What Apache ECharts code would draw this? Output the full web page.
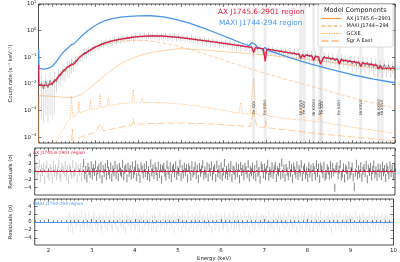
<!DOCTYPE html>
<html>
<head>
<meta charset="utf-8">
<script src="https://cdn.jsdelivr.net/npm/echarts@6/dist/echarts.min.js"></script>
<style>html,body{margin:0;padding:0;background:#fff}#chart{width:400px;height:262px}</style>
</head>
<body>
<div id="chart"></div>
<script>
// spectrum bins (keV)
const binStart = 1.75, binWidth = 0.05;
// residual bins (keV)
const resStart = 1.71, resWidth = 0.025;

// AX J1745.6-2901 region data, count rate per bin
const axRate = [
  0.011,0.0065,0.0125,0.0072,0.0135,0.0088,0.0148,0.0118,0.0225,0.0195,
  0.034,0.030,0.046,0.042,0.060,0.052,0.078,0.081,0.11,0.112,
  0.15,0.142,0.185,0.178,0.235,0.222,0.27,0.262,0.33,0.31,
  0.37,0.345,0.42,0.385,0.45,0.42,0.49,0.455,0.53,0.48,
  0.56,0.51,0.59,0.53,0.62,0.56,0.64,0.57,0.66,0.59,
  0.67,0.60,0.68,0.59,0.67,0.60,0.66,0.58,0.65,0.57,
  0.63,0.55,0.62,0.54,0.60,0.52,0.58,0.50,0.55,0.47,
  0.52,0.45,0.50,0.42,0.47,0.40,0.45,0.38,0.43,0.36,
  0.41,0.345,0.39,0.33,0.37,0.315,0.355,0.30,0.335,0.28,
  0.32,0.265,0.305,0.25,0.285,0.235,0.27,0.225,0.25,0.155,
  0.235,0.20,0.232,0.19,0.12,0.175,0.215,0.175,0.205,0.165,
  0.19,0.155,0.18,0.145,0.172,0.138,0.163,0.128,0.155,0.12,
  0.145,0.095,0.13,0.105,0.132,0.102,0.125,0.082,0.118,0.092,
  0.062,0.075,0.11,0.085,0.106,0.078,0.10,0.072,0.094,0.06,
  0.09,0.066,0.085,0.06,0.08,0.055,0.074,0.052,0.07,0.046,
  0.068,0.048,0.066,0.044,0.062,0.042,0.058,0.036,0.052,0.034,
  0.053,0.035,0.05,0.033,0.047,0.032
];
// fractional error of the data, by energy band
const errE = [1.75, 2.1, 2.5, 3.0, 6.2, 8.0, 9.0];
const errFrac = [0.95, 0.6, 0.4, 0.3, 0.35, 0.42, 0.5];

// residuals (sigma)
const resAX = [
  1.4,-0.9,0.3,2.0,-1.6,0.7,-0.2,1.2,-2.1,0.5,1.7,-0.6,-1.3,0.9,0.1,-1.8,1.5,-0.4,0.8,-1.1,
  0.2,1.9,-0.7,-1.5,1.1,0.4,-0.3,1.6,-1.2,0.6,-2.0,1.0,0.3,-0.8,1.8,-0.5,0.0,1.3,-1.6,0.7,
  -0.2,1.1,-1.4,0.5,2.1,-0.9,0.4,-1.7,1.2,0.1,-0.6,1.5,-1.0,0.8,-0.1,1.7,-1.3,0.3,0.9,-0.7,
  1.4,-1.9,0.6,-0.4,1.0,-1.1,1.8,0.2,-0.8,1.3,-1.5,0.5,-0.2,1.6,-0.9,0.7,-1.4,1.1,0.0,-0.5,
  1.9,-1.2,0.4,0.8,-1.7,1.2,-0.3,0.6,-1.0,1.5,-0.6,0.2,1.7,-1.4,0.9,-0.1,-1.8,1.3,0.5,-0.7,
  1.0,-0.4,1.6,-1.1,0.3,-1.5,2.0,-0.2,0.7,-0.9,1.2,0.1,-1.3,1.4,-0.6,0.8,-2.0,0.6,1.1,-0.3,
  -1.2,1.7,0.2,-0.8,1.3,-1.6,0.5,0.9,-0.4,1.5,-1.1,0.3,-0.1,1.9,-1.4,0.6,-0.7,1.2,-0.2,0.8,
  -1.7,1.0,0.4,-1.3,1.6,-0.5,0.1,1.4,-0.9,0.7,-1.8,1.1,-0.3,0.5,1.8,-1.0,0.2,-0.6,1.3,-1.5,
  0.9,-0.2,1.5,-1.2,0.3,0.8,-1.6,1.7,-0.4,0.6,-0.9,1.2,-1.4,0.0,2.1,-0.8,0.4,-1.1,1.0,-0.3,
  1.6,-1.7,0.5,0.2,-1.0,1.3,-0.5,0.9,-1.9,1.4,-0.1,0.7,-1.2,1.1,0.3,-0.6,1.8,-1.5,0.4,-0.2,
  1.2,-0.9,0.6,-1.4,1.7,-0.3,0.1,-2.0,1.5,0.8,-0.7,1.0,-1.1,0.4,1.9,-1.3,0.2,-0.5,1.3,-0.8,
  0.5,1.4,-1.6,0.3,-0.2,1.1,-1.0,2.2,-0.6,0.7,-1.5,0.9,0.0,-1.2,1.6,-0.4,0.8,-1.8,1.2,0.2,
  -0.7,1.5,-1.1,0.6,-0.3,1.8,-1.4,0.4,1.0,-0.9,0.1,-1.6,1.3,-0.5,0.7,-1.4,1.1,0.3,-1.2,1.7,
  -0.4,0.9,-1.8,1.2,0.5,-0.6,1.4,-1.3,-0.8,0.8,0.2,-1.0,1.6,-0.7,1.1,-0.2,-4.0,0.6,1.3,-0.9,
  0.4,1.8,-1.2,-0.5,1.0,-1.7,0.7,0.3,-1.1,1.5,-0.8,0.1,1.2,-1.4,-3.8,-0.3,1.9,-1.0,0.5,-0.6,
  1.3,-1.5,0.2,0.9,-0.4,1.6,-1.9,0.7,-0.1,1.1,-1.2,0.4,1.7,-0.7,0.3,-1.3,1.0,-0.5,0.8,-1.1,
  1.4,-0.2,0.6,-1.6,1.1,0.3,-0.9,1.5,-0.4,0.7,-1.2,0.9
];
const resMAXI = [
  null,null,null,null,null,null,null,null,null,null,null,null,null,null,null,
  null,null,null,null,null,null,null,null,null,null,null,null,null,null,
  0.7,-1.3,1.6,-0.4,0.2,-1.8,1.1,0.5,-0.9,1.4,-0.2,0.8,-1.5,1.9,-0.6,0.3,-1.1,1.2,0.0,-0.7,
  1.5,-1.0,0.4,-1.6,0.9,1.7,-0.3,0.6,-1.2,0.2,1.3,-0.8,-1.9,1.0,0.5,-0.4,1.6,-1.3,0.7,-0.1,
  1.1,-0.6,-1.4,1.8,0.3,-0.9,0.8,-1.7,1.2,0.1,-0.5,1.5,-1.0,0.4,-2.0,1.3,0.6,-0.3,0.9,-1.2,
  0.2,1.6,-0.7,-1.1,1.4,-0.2,0.7,-1.5,1.0,0.5,-1.8,1.2,-0.4,0.3,1.7,-0.9,-0.1,1.1,-1.3,0.8,
  -0.6,1.3,0.4,-1.6,0.9,-0.3,1.8,-1.0,0.1,0.6,-1.4,1.5,-0.8,0.2,1.0,-1.2,0.7,-0.5,1.6,-1.9,
  0.5,-0.2,1.2,-1.1,0.8,0.3,-1.7,1.4,-0.4,0.9,-0.9,0.1,1.7,-1.3,0.6,-0.7,1.1,-1.5,0.4,1.3,
  -1.0,0.7,-0.3,1.9,-1.6,0.2,1.0,-0.8,0.5,-1.2,1.4,0.0,-0.6,1.2,-1.8,0.8,0.3,-1.1,1.5,-0.4,
  0.9,-1.4,0.6,1.1,-0.5,-1.0,1.6,-0.2,0.4,-1.7,1.3,0.7,-0.9,0.2,1.8,-1.3,0.5,-0.6,1.0,-0.1,
  -1.5,1.2,0.3,-0.8,1.7,-1.1,0.6,-0.4,1.4,-1.9,0.8,0.1,-0.7,1.1,-1.2,0.4,1.6,-0.5,0.2,-1.0,
  1.3,-0.3,0.7,-1.6,1.0,0.5,-1.2,1.8,-0.6,0.2,-0.9,1.5,-1.4,0.6,0.0,-0.8,1.2,-1.7,0.9,0.3,
  -0.4,1.4,-1.1,0.5,-0.2,1.7,-1.5,0.8,0.1,-1.0,1.1,-0.6,0.4,-1.8,1.3,0.2,-0.7,1.0,-1.3,0.6,
  1.6,-0.9,0.3,-0.5,1.2,-1.4,0.7,0.9,-1.6,0.4,-0.1,1.5,-1.2,0.6,-0.3,1.9,-1.0,0.2,-0.8,1.1,
  -1.3,0.5,1.0,-0.7,0.3,-1.9,1.4,-0.2,0.8,-1.1,1.2,0.4,-0.6,1.6,-1.5,0.1,0.9,-0.4,1.3,-1.2,
  0.6,-0.1,1.1,-1.4,0.7,0.2,-1.0,1.7,-0.8,0.5,-1.6,1.0,0.3,-0.5,1.4,-1.3,0.8,-0.2,0.4,-0.9,
  1.2,-1.7,0.6,0.1,-0.6,1.5,-1.1,0.3,0.9,-1.4,0.7,-0.3,1.3,-1.0,0.2,1.0,-1.5,0.5,-0.7,1.1,
  -0.4,0.8,-1.2
];

// total models
const axModelE = [1.685,1.69,1.80,1.90,2.00,2.10,2.20,2.30,2.40,2.47,2.52,2.60,2.70,2.85,3.00,3.20,3.40,3.60,3.80,4.00,
  4.30,4.60,5.00,5.40,5.80,6.20,6.50,6.66,6.70,6.74,6.93,6.97,7.01,7.40,7.76,7.80,7.84,7.88,7.92,8.06,
  8.10,8.14,8.22,8.26,8.29,8.33,8.66,8.70,8.74,9.16,9.20,9.24,9.58,9.62,9.66,9.70,9.74,10.0];
const axModelRate = [0.05,0.0088,0.0088,0.0090,0.0105,0.015,0.024,0.035,0.048,0.053,0.058,0.085,0.12,0.17,0.24,0.33,0.41,0.48,0.54,0.59,
  0.63,0.62,0.55,0.45,0.37,0.30,0.255,0.235,0.15,0.228,0.205,0.07,0.20,0.16,0.128,0.09,0.124,0.10,0.12,0.11,
  0.075,0.107,0.103,0.055,0.068,0.098,0.081,0.055,0.079,0.062,0.045,0.06,0.049,0.036,0.047,0.039,0.046,0.038];
const maxiModelE = [1.685,1.69,1.80,1.90,2.00,2.10,2.20,2.30,2.40,2.45,2.50,2.60,2.70,2.80,2.90,3.00,3.10,3.20,3.40,3.60,
  3.80,4.00,4.30,4.60,4.90,5.20,5.50,5.80,6.10,6.40,6.60,6.66,6.70,6.74,6.80,6.92,6.97,7.02,7.30,7.60,
  8.00,8.50,9.00,9.50,10.0];
const maxiModelRate = [0.2,0.038,0.036,0.038,0.045,0.07,0.12,0.18,0.25,0.3,0.31,0.45,0.65,0.9,1.2,1.55,1.9,2.25,2.8,3.2,
  3.45,3.6,3.62,3.3,2.6,1.9,1.3,0.85,0.55,0.35,0.27,0.36,0.42,0.3,0.23,0.2,0.235,0.185,0.13,0.09,
  0.058,0.035,0.022,0.015,0.011];

// model components (AX region)
const compAXE = [1.685,1.69,2.0,2.3,2.5,2.7,2.9,3.1,3.3,3.5,3.7,4.0,4.3,4.7,5.0,5.5,6.0,6.5,7.0,7.5,8.0,8.5,9.0,9.5,10.0];
const compAXRate = [1e-5,0.0036,0.0034,0.0031,0.0031,0.0042,0.0075,0.014,0.026,0.045,0.07,0.11,0.15,0.19,0.21,0.19,0.16,0.14,0.12,0.1,0.082,0.065,0.05,0.04,0.031];
const compMAXIE = [1.685,1.69,1.9,2.0,2.2,2.4,2.6,2.8,3.0,3.3,3.6,3.9,4.2,4.5,4.8,5.1,5.4,5.8,6.2,6.6,7.0,7.5,8.0,8.5,9.0,9.5,10.0];
const compMAXIRate = [1e-5,0.0075,0.0078,0.0092,0.021,0.042,0.1,0.16,0.23,0.33,0.4,0.43,0.42,0.36,0.29,0.22,0.16,0.1,0.06,0.038,0.024,0.014,0.0085,0.005,0.0031,0.0019,0.0012];
const gcxeE = [2.05,2.15,2.25,2.35,2.42,2.45,2.48,2.55,2.60,2.62,2.64,2.75,2.87,2.89,2.91,3.00,3.10,3.12,3.14,3.28,
  3.31,3.34,3.60,3.86,3.89,3.92,4.07,4.10,4.13,4.50,5.00,5.60,6.00,6.36,6.40,6.44,6.62,6.66,6.70,6.73,
  6.77,6.93,6.97,7.01,7.40,7.80,7.84,7.88,8.20,8.25,8.30,8.50,9.20,10.0];
const gcxeRate = [4e-5,1e-4,1.9e-4,3.6e-4,5e-4,3.5e-3,5.5e-4,6.5e-4,7.8e-4,2.2e-3,8e-4,9.4e-4,1.05e-3,2.6e-3,1.07e-3,1.15e-3,1.25e-3,4.2e-3,1.28e-3,1.45e-3,
  3.2e-3,1.5e-3,1.8e-3,1.95e-3,6e-3,1.96e-3,2e-3,3e-3,2e-3,2e-3,1.75e-3,1.3e-3,1e-3,7.8e-4,2e-3,7.6e-4,7.2e-4,4.5e-3,1.6e-2,2.5e-3,
  7e-4,6.5e-4,2.6e-3,6.4e-4,5e-4,4.4e-4,1.1e-3,4.3e-4,3.7e-4,7e-4,3.6e-4,3.2e-4,2.1e-4,1.4e-4];
const sgrE = [2.30,2.45,2.47,2.49,2.60,2.80,3.00,3.12,3.20,3.50,3.86,3.89,3.92,4.20,4.80,5.60,6.40,6.62,6.67,6.70,
  6.73,6.78,6.95,6.98,7.01,7.50,7.80,8.30,8.90,9.50,10.0];
const sgrRate = [4e-5,6e-5,2e-4,7e-5,9e-5,1.2e-4,1.5e-4,3e-4,1.7e-4,2.2e-4,2.8e-4,5e-4,2.9e-4,3.2e-4,3.35e-4,3.2e-4,2.6e-4,2.5e-4,6e-4,1.1e-3,
  5e-4,2.45e-4,2.3e-4,4e-4,2.25e-4,1.85e-4,1.6e-4,1.3e-4,1.05e-4,8.5e-5,7e-5];

// absorption line identifications
const lineE = [6.70, 6.97, 7.80, 7.88, 8.10, 8.25, 8.29, 8.70, 9.20, 9.62, 9.70];
const lineName = ['Fe XXV','Fe XXVI','Ni XXVII','Fe XXV','Ni XXVIII','Fe XXVI','Fe XXV','Fe XXVI','Ni XXVII','Ni XXVIII','Ni XXVII'];

const xMajor = [2, 3, 4, 5, 6, 7, 8, 9, 10];
const resTicks = [-4, -2, 0, 2, 4];

// ---- styles ----
const FONT = 'DejaVu Sans';
const RED = '#dc1f44', BLUE = '#4a96ea', ORANGE = '#ff9b3d';
const xMin = 1.68, xMax = 10;
const lineLabelY = 1.3e-3;
const tickLine = { color: '#222', width: 0.6 };

const xMinor = [];
for (let k = 17; k < 100; k++) if (k % 10) xMinor.push(k / 10);

const bins = axRate.map((_, i) => +(binStart + i * binWidth).toFixed(2));
const resBins = resAX.map((_, i) => +(resStart + i * resWidth).toFixed(3));
function fracAt(e) {
  let f = errFrac[0];
  for (let j = 0; j < errE.length; j++) if (e >= errE[j]) f = errFrac[j];
  return f;
}
const zip = (xs, ys) => xs.map((x, i) => [x, ys[i]]);

const axBars = bins.map((e, i) => {
  const f = fracAt(e);
  return [e, axRate[i], Math.max(axRate[i] * (1 - f), 6.2e-5), axRate[i] * (1 + f)];
});
const resAXBars = resBins.map((e, i) => [e, resAX[i], resAX[i] - 1, resAX[i] + 1]);
const resMAXIBars = resBins.map((e, i) => resMAXI[i] === null ? null : [e, resMAXI[i], resMAXI[i] - 1, resMAXI[i] + 1])
  .filter(d => d !== null);

// colour of an error bar, lighter in the faint low-energy part
function barRender(color, width, faintColor, faintBelow) {
  return function (params, api) {
    const x = api.value(0);
    const a = api.coord([x, api.value(2)]);
    const b = api.coord([x, api.value(3)]);
    const c = (faintColor && x < faintBelow) ? faintColor : color;
    return { type: 'line', shape: { x1: a[0], y1: a[1], x2: b[0], y2: b[1] },
      style: { stroke: c, lineWidth: width } };
  };
}

function xAxes(g, withLabels) {
  const base = { type: 'value', gridIndex: g, min: xMin, max: xMax,
    axisLine: { show: false }, splitLine: { show: false } };
  const major = { inside: true, length: 3, customValues: xMajor, lineStyle: tickLine };
  const minor = { inside: true, length: 1.6, customValues: xMinor, lineStyle: tickLine };
  const lab = withLabels
    ? { show: true, customValues: xMajor, fontSize: 5.5, color: '#222', fontFamily: FONT, margin: 3 }
    : { show: false };
  const main = Object.assign({}, base, { position: 'bottom', axisTick: major, axisLabel: lab });
  if (withLabels) {
    Object.assign(main, { name: 'Energy (keV)', nameLocation: 'middle', nameGap: 11,
      nameTextStyle: { fontSize: 5.3, color: '#222', fontFamily: FONT } });
  }
  return [
    main,
    Object.assign({}, base, { position: 'bottom', axisTick: minor, axisLabel: { show: false } }),
    Object.assign({}, base, { position: 'top', axisTick: major, axisLabel: { show: false } }),
    Object.assign({}, base, { position: 'top', axisTick: minor, axisLabel: { show: false } })
  ];
}

function logLabel(v) {
  const p = Math.round(Math.log10(v));
  return '{b|10}{s|' + (p < 0 ? '\u2212' + (-p) : p) + '}';
}
const logRich = {
  b: { fontSize: 5.5, color: '#222', fontFamily: FONT },
  s: { fontSize: 3.8, color: '#222', fontFamily: FONT, padding: [0, 0, 4, 0] }
};

function resY(g, pos) {
  const ax = { type: 'value', gridIndex: g, position: pos, min: -5.8, max: 5.8,
    axisLine: { show: false }, splitLine: { show: false },
    axisTick: { inside: true, length: 3, customValues: resTicks, lineStyle: tickLine } };
  if (pos === 'left') {
    ax.axisLabel = { customValues: resTicks, fontSize: 5.3, color: '#222', fontFamily: FONT, margin: 3,
      formatter: v => (v < 0 ? '\u2212' + (-v) : '' + v) };
    ax.name = 'Residuals (\u03c3)';
    ax.nameLocation = 'middle';
    ax.nameGap = 12;
    ax.nameTextStyle = { fontSize: 5.3, color: '#222', fontFamily: FONT };
  } else {
    ax.axisLabel = { show: false };
  }
  return ax;
}

const gridBox = { show: true, borderColor: '#222', borderWidth: 0.8, left: 26, right: 5 };

const compLine = (name, xs, ys, type, op) => ({
  name: name, type: 'line', xAxisIndex: 0, yAxisIndex: 0, data: zip(xs, ys),
  symbol: 'none', silent: true, z: 2,
  lineStyle: { color: ORANGE, width: 0.9, type: type, opacity: op },
  itemStyle: { color: ORANGE }
});

const chart = echarts.init(document.getElementById('chart'), null, { renderer: 'canvas' });
chart.setOption({
  animation: false,
  backgroundColor: '#fff',
  textStyle: { fontFamily: FONT },
  grid: [
    Object.assign({ top: 3, height: 140 }, gridBox),
    Object.assign({ top: 148, height: 47 }, gridBox),
    Object.assign({ top: 199, height: 47 }, gridBox)
  ],
  xAxis: [].concat(xAxes(0, false), xAxes(1, false), xAxes(2, true)),
  yAxis: [
    { type: 'log', gridIndex: 0, position: 'left', min: 6e-5, max: 10,
      axisLine: { show: false }, splitLine: { show: false },
      axisTick: { inside: true, length: 3, lineStyle: tickLine },
      axisLabel: { formatter: logLabel, rich: logRich, margin: 2, showMinLabel: false },
      name: 'Count rate (s\u207b\u00b9 keV\u207b\u00b9)', nameLocation: 'middle', nameGap: 15,
      nameTextStyle: { fontSize: 5.3, color: '#222', fontFamily: FONT } },
    { type: 'log', gridIndex: 0, position: 'right', min: 6e-5, max: 10,
      axisLine: { show: false }, splitLine: { show: false },
      axisTick: { inside: true, length: 3, lineStyle: tickLine }, axisLabel: { show: false } },
    resY(1, 'left'), resY(1, 'right'),
    resY(2, 'left'), resY(2, 'right')
  ],
  title: [
    { text: 'AX J1745.6-2901 region', left: 218, top: 9, padding: 0,
      textStyle: { fontSize: 7.3, color: RED, fontWeight: 'normal', fontFamily: FONT } },
    { text: 'MAXI J1744-294 region', left: 219, top: 20, padding: 0,
      textStyle: { fontSize: 7.3, color: BLUE, fontWeight: 'normal', fontFamily: FONT } },
    { text: 'Model Components', left: 324, top: 7, padding: 0,
      textStyle: { fontSize: 6.5, color: '#222', fontWeight: 'normal', fontFamily: FONT } },
    { text: 'AX J1745.6-2901 region', left: 33, top: 151, padding: 0,
      textStyle: { fontSize: 4.4, color: RED, fontWeight: 'normal', fontFamily: FONT } },
    { text: 'MAXI J1744-294 region', left: 33, top: 202, padding: 0,
      textStyle: { fontSize: 4.4, color: BLUE, fontWeight: 'normal', fontFamily: FONT } }
  ],
  graphic: [
    { type: 'rect', z: 3, silent: true,
      shape: { x: 318, y: 4, width: 75, height: 43, r: 2 },
      style: { fill: 'rgba(255,255,255,0.85)', stroke: '#c8c8c8', lineWidth: 0.7 } }
  ],
  legend: {
    orient: 'vertical', left: 321, top: 16, padding: 0, itemGap: 2.5,
    itemWidth: 20, itemHeight: 5, selectedMode: false, z: 5,
    textStyle: { fontSize: 5, color: '#222', fontFamily: FONT },
    lineStyle: { opacity: 1, width: 1.2 },
    itemStyle: { opacity: 0 },
    data: ['AX J1745.6\u22122901', 'MAXI J1744\u2212294', 'GCXE', 'Sgr A East']
  },
  series: [
    { type: 'scatter', xAxisIndex: 0, yAxisIndex: 0, silent: true, z: 1,
      data: lineE.map((e, i) => ({ name: lineName[i], value: [e, lineLabelY] })),
      symbolSize: 1, itemStyle: { color: 'rgba(0,0,0,0)' },
      label: { show: true, position: 'inside', rotate: 90, formatter: '{b}', fontSize: 3.8,
        color: '#222', fontFamily: FONT },
      markArea: { silent: true, itemStyle: { color: 'rgba(0,0,0,0.07)' },
        data: lineE.map(e => [{ xAxis: e - 0.035 }, { xAxis: e + 0.035 }]) } },
    compLine('AX J1745.6\u22122901', compAXE, compAXRate, 'solid', 0.5),
    compLine('MAXI J1744\u2212294', compMAXIE, compMAXIRate, [4, 2], 0.5),
    compLine('GCXE', gcxeE, gcxeRate, [1.2, 1.2], 0.65),
    compLine('Sgr A East', sgrE, sgrRate, [7, 3], 0.55),
    { type: 'custom', xAxisIndex: 0, yAxisIndex: 0, silent: true, z: 3,
      renderItem: barRender('rgba(0,0,0,0.2)', 0.7), data: axBars, encode: { x: 0, y: 1 } },
    { type: 'line', xAxisIndex: 0, yAxisIndex: 0, silent: true, z: 4, symbol: 'none',
      data: zip(bins, axRate), lineStyle: { color: '#111', width: 0.5, opacity: 0.85 } },
    { type: 'line', xAxisIndex: 0, yAxisIndex: 0, silent: true, z: 5, symbol: 'none',
      data: zip(maxiModelE, maxiModelRate), lineStyle: { color: BLUE, width: 1.3 } },
    { type: 'line', xAxisIndex: 0, yAxisIndex: 0, silent: true, z: 6, symbol: 'none',
      data: zip(axModelE, axModelRate), lineStyle: { color: RED, width: 1.3 } },
    { type: 'custom', xAxisIndex: 4, yAxisIndex: 2, silent: true,
      renderItem: barRender('rgba(0,0,0,0.62)', 0.8, 'rgba(0,0,0,0.25)', 2.8),
      data: resAXBars, encode: { x: 0, y: 1 },
      markLine: { silent: true, symbol: 'none', label: { show: false },
        lineStyle: { color: RED, width: 1.2, type: 'solid' }, data: [{ yAxis: 0 }] } },
    { type: 'custom', xAxisIndex: 8, yAxisIndex: 4, silent: true,
      renderItem: barRender('rgba(0,0,0,0.14)', 0.7), data: resMAXIBars, encode: { x: 0, y: 1 },
      markLine: { silent: true, symbol: 'none', label: { show: false },
        lineStyle: { color: BLUE, width: 1.2, type: 'solid' }, data: [{ yAxis: 0 }] } }
  ]
});
</script>
</body>
</html>
